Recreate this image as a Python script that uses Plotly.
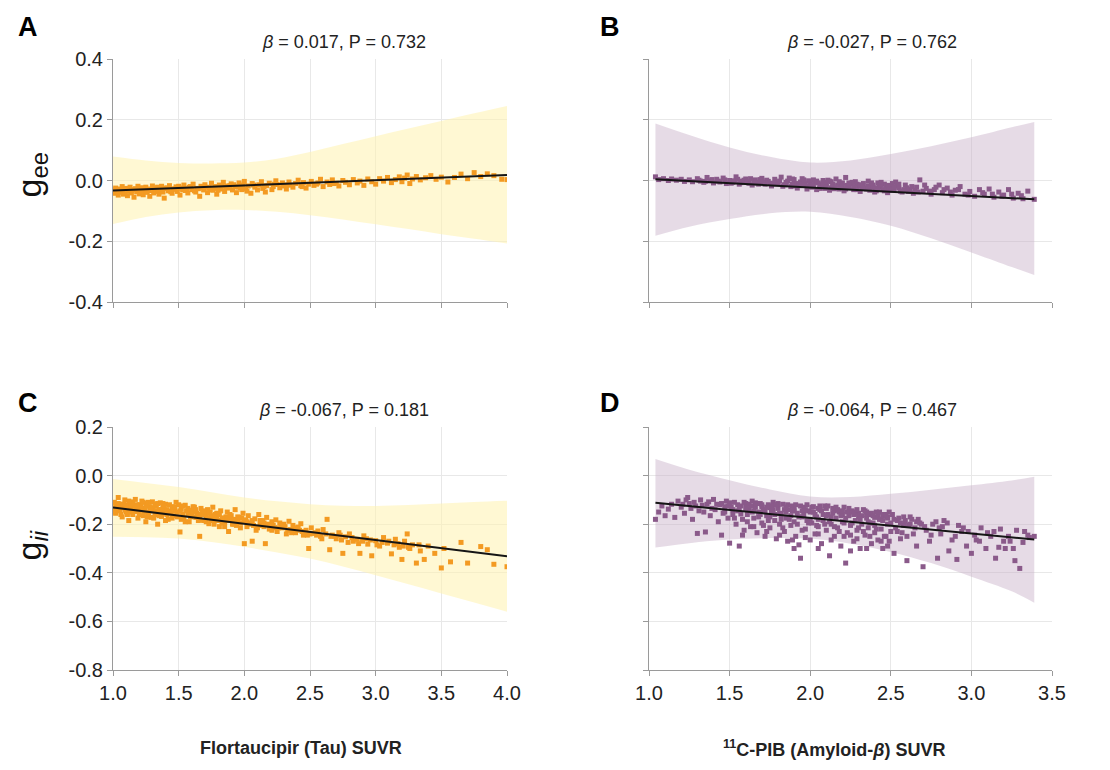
import plotly.graph_objects as go

# ---------------- data ----------------
tau_gee_pts = [(1.00,-0.030),(1.01,-0.042),(1.02,-0.025),(1.03,-0.036),(1.04,-0.048),(1.05,-0.028),(1.06,-0.038),(1.07,-0.020),(1.08,-0.045),(1.09,-0.032),(1.10,-0.026),(1.11,-0.050),(1.12,-0.035),(1.13,-0.022),(1.14,-0.041),(1.15,-0.030),(1.16,-0.055),(1.17,-0.027),(1.18,-0.037),(1.19,-0.019),(1.20,-0.044),
(1.21,-0.031),(1.22,-0.024),(1.23,-0.047),(1.24,-0.034),(1.25,-0.022),(1.26,-0.039),(1.27,-0.028),(1.28,-0.052),(1.29,-0.033),(1.30,-0.018),(1.31,-0.041),(1.32,-0.027),(1.33,-0.036),(1.34,-0.022),(1.35,-0.045),(1.36,-0.030),(1.37,-0.019),(1.38,-0.038),(1.39,-0.058),(1.40,-0.026),
(1.42,-0.034),(1.43,-0.017),(1.45,-0.042),(1.46,-0.029),(1.48,-0.021),(1.49,-0.036),(1.51,-0.048),(1.52,-0.025),(1.54,-0.015),(1.55,-0.033),(1.57,-0.041),(1.58,-0.022),(1.60,-0.030),(1.61,-0.012),(1.63,-0.038),(1.64,-0.026),(1.66,-0.052),(1.67,-0.019),(1.69,-0.031),(1.70,-0.014),(1.72,-0.040),(1.73,-0.024),(1.75,-0.009),(1.76,-0.032),(1.78,-0.020),(1.79,-0.045),(1.81,-0.015),(1.82,-0.028),(1.84,-0.006),(1.85,-0.036),(1.87,-0.018),(1.88,-0.025),(1.90,-0.011),(1.91,-0.031),(1.93,-0.020),(1.94,-0.040),(1.96,-0.008),(1.97,-0.024),(1.99,-0.015),(2.00,-0.003),
(2.01,-0.028),(2.02,-0.035),(2.03,-0.018),(2.05,-0.042),(2.06,-0.010),(2.08,-0.022),(2.10,-0.031),(2.11,-0.014),(2.13,-0.004),(2.14,-0.026),(2.16,-0.038),(2.17,-0.017),(2.19,-0.009),(2.21,-0.030),(2.22,-0.020),(2.24,-0.001),(2.25,-0.013),(2.27,-0.024),(2.29,-0.008),(2.30,-0.018),(2.32,-0.028),(2.34,-0.005),(2.35,-0.015),(2.37,-0.022),(2.39,-0.010),(2.41,0.001),(2.43,-0.017),(2.45,-0.007),(2.47,-0.025),(2.49,-0.012),
(2.51,-0.003),(2.53,-0.016),(2.56,-0.008),(2.58,0.004),(2.60,-0.020),(2.63,-0.005),(2.65,-0.013),(2.67,0.002),(2.70,-0.009),(2.72,-0.018),(2.75,0.000),(2.77,-0.006),(2.80,-0.014),(2.83,0.003),(2.86,-0.008),(2.88,-0.002),(2.91,-0.016),(2.94,0.005),(2.97,-0.004),(3.00,-0.012),
(3.03,0.006),(3.06,-0.002),(3.09,0.010),(3.12,-0.007),(3.15,0.003),(3.18,0.012),(3.20,-0.004),(3.22,0.008),(3.24,0.018),(3.26,-0.010),(3.28,0.005),(3.31,0.013),(3.34,0.002),(3.38,0.009),(3.42,0.016),(3.46,0.004),(3.50,0.011),(3.55,-0.005),(3.60,0.010),(3.65,0.021),(3.70,0.006),(3.75,0.026),(3.80,0.013),(3.85,0.022),(3.90,0.016),(3.96,0.004),(4.00,0.003),
(1.02,-0.034),(1.07,-0.031),(1.12,-0.028),(1.18,-0.029),(1.23,-0.026),(1.28,-0.030),(1.34,-0.031),(1.41,-0.024),(1.47,-0.027),(1.53,-0.030),(1.59,-0.020),(1.65,-0.027),(1.71,-0.022),(1.77,-0.026),(1.83,-0.019),(1.89,-0.017),(1.95,-0.022),
(1.04,-0.038),(1.09,-0.040),(1.14,-0.034),(1.21,-0.040),(1.26,-0.033),(1.31,-0.024),(1.37,-0.033),(1.44,-0.037),(1.50,-0.019),(1.56,-0.027),(1.62,-0.034),(1.68,-0.024),(1.74,-0.030),(1.80,-0.032),(1.86,-0.023),(1.92,-0.014),(1.98,-0.030),(2.07,-0.015),(2.15,-0.020),(2.23,-0.012),(2.33,-0.014),(2.44,-0.020),(2.55,-0.012),(2.68,-0.010)]

pib_gee_pts = [(1.04,0.012),(1.06,0.003),(1.09,0.006),(1.12,0.000),(1.14,0.005),(1.17,0.001),(1.20,0.004),(1.22,-0.003),(1.25,0.002),(1.27,-0.004),(1.30,0.006),(1.32,-0.002),(1.34,-0.006),(1.36,0.010),(1.38,-0.001),(1.40,-0.008),(1.42,0.004),(1.44,-0.005),(1.46,0.008),(1.48,-0.010),(1.50,0.000),
(1.52,-0.006),(1.54,0.012),(1.56,-0.012),(1.58,-0.002),(1.60,0.005),(1.62,-0.009),(1.64,-0.015),(1.66,0.002),(1.68,-0.006),(1.70,0.007),(1.72,-0.012),(1.74,-0.003),(1.76,-0.018),(1.78,0.004),(1.80,-0.008),(1.82,0.011),(1.84,-0.014),(1.86,-0.002),(1.88,-0.020),(1.90,0.003),
(1.91,-0.010),(1.92,-0.025),(1.94,-0.005),(1.95,0.006),(1.96,-0.016),(1.98,-0.028),(1.99,-0.001),(2.00,-0.012),(2.01,-0.022),(2.02,0.002),(2.04,-0.030),(2.05,-0.008),(2.06,-0.018),(2.08,0.000),(2.09,-0.026),(2.10,-0.012),(2.12,-0.032),(2.13,-0.004),(2.14,-0.020),(2.16,0.005),
(2.17,-0.015),(2.18,-0.028),(2.20,-0.008),(2.21,-0.034),(2.22,0.010),(2.24,-0.022),(2.25,-0.012),(2.27,-0.030),(2.28,-0.004),(2.30,-0.018),(2.31,-0.036),(2.33,-0.010),(2.34,-0.025),(2.36,-0.002),(2.37,-0.032),(2.39,-0.015),(2.40,-0.038),(2.42,-0.008),(2.43,-0.022),(2.45,-0.030),
(2.46,-0.012),(2.48,-0.040),(2.50,-0.020),(2.52,-0.032),(2.53,-0.005),(2.55,-0.025),(2.57,-0.038),(2.59,-0.015),(2.62,-0.030),(2.64,-0.042),(2.66,-0.022),(2.68,0.002),(2.70,-0.035),(2.72,-0.026),(2.75,-0.045),(2.77,-0.030),(2.80,-0.015),(2.82,-0.040),(2.85,-0.025),(2.88,-0.048),
(2.90,-0.032),(2.93,-0.020),(2.96,-0.045),(2.99,-0.036),(3.02,-0.052),(3.05,-0.030),(3.08,-0.045),(3.11,-0.028),(3.14,-0.055),(3.17,-0.038),(3.20,-0.048),(3.23,-0.030),(3.26,-0.058),(3.29,-0.042),(3.32,-0.060),(3.35,-0.035),(3.39,-0.062),
(1.65,-0.004),(1.73,0.001),(1.79,-0.011),(1.87,0.008),(1.93,-0.017),(2.03,-0.006),(2.07,-0.014),(2.11,0.001),(2.19,-0.024),(2.26,-0.006),(2.35,-0.028),(2.44,-0.016),(2.51,-0.010),(1.68,-0.012),(1.83,-0.019),(1.97,-0.009),(2.15,-0.027),(2.23,-0.016),(2.32,-0.022),(2.41,-0.034),
(2.47,-0.026),(2.56,-0.035),(2.61,-0.036),(2.60,-0.024),(2.65,-0.032),(1.75,-0.009),(1.85,-0.006),(1.89,-0.013),(2.01,-0.016),(2.09,-0.006),(2.13,-0.024),(2.29,-0.012),(2.38,-0.020),(2.49,-0.033),(2.54,-0.018),
(1.31,0.001),(1.35,-0.003),(1.39,0.003),(1.43,-0.002),(1.47,0.002),(1.51,-0.009),(1.53,-0.001),(1.55,0.004),(1.57,-0.007),(1.59,0.001),(1.61,-0.004),(1.63,0.006),(1.67,-0.008),(1.69,0.003),(1.71,-0.005),(1.77,-0.010),(1.81,-0.002),(1.85,-0.013),(1.89,0.005),(1.90,-0.018),
(1.94,-0.012),(1.96,0.002),(1.99,-0.020),(2.02,-0.014),(2.04,-0.002),(2.06,-0.026),(2.08,-0.010),(2.10,-0.020),(2.12,-0.002),(2.14,-0.012),(2.16,-0.022),(2.18,-0.004),(2.20,-0.018),(2.22,-0.028),(2.24,-0.008),(2.27,-0.020),(2.29,-0.030),(2.31,-0.014),(2.33,-0.026),(2.36,-0.018),
(2.38,-0.008),(2.40,-0.024),(2.42,-0.030),(2.44,-0.006),(2.46,-0.034),(2.48,-0.016),(2.50,-0.030),(2.52,-0.022),(2.55,-0.012),(2.58,-0.030),(2.63,-0.020),(2.67,-0.038),(2.71,-0.015),(2.74,-0.035),(2.78,-0.022),(2.83,-0.030),(2.87,-0.038),(2.92,-0.030),(2.98,-0.048),(3.07,-0.040),
(3.13,-0.045),(3.19,-0.052),(3.25,-0.045),(3.31,-0.050)]

tau_gii_pts = [(1.00,-0.140),(1.01,-0.110),(1.02,-0.155),(1.03,-0.125),(1.04,-0.090),(1.05,-0.145),(1.06,-0.118),(1.07,-0.170),(1.08,-0.132),(1.09,-0.100),(1.10,-0.150),(1.11,-0.122),(1.12,-0.185),(1.13,-0.140),(1.14,-0.108),(1.15,-0.160),(1.16,-0.130),(1.17,-0.098),(1.18,-0.148),(1.19,-0.175),(1.20,-0.120),
(1.21,-0.142),(1.22,-0.105),(1.23,-0.165),(1.24,-0.135),(1.25,-0.190),(1.26,-0.115),(1.27,-0.152),(1.28,-0.128),(1.29,-0.172),(1.30,-0.108),(1.31,-0.145),(1.32,-0.160),(1.33,-0.125),(1.34,-0.200),(1.35,-0.140),(1.36,-0.112),(1.37,-0.168),(1.38,-0.135),(1.39,-0.155),(1.40,-0.118),
(1.42,-0.180),(1.43,-0.146),(1.45,-0.128),(1.46,-0.165),(1.48,-0.110),(1.49,-0.150),(1.51,-0.232),(1.52,-0.138),(1.54,-0.175),(1.55,-0.122),(1.57,-0.160),(1.58,-0.190),(1.60,-0.142),(1.61,-0.128),(1.63,-0.172),(1.64,-0.155),(1.66,-0.250),(1.67,-0.135),(1.69,-0.185),(1.70,-0.160),
(1.72,-0.140),(1.73,-0.198),(1.75,-0.168),(1.76,-0.130),(1.78,-0.182),(1.79,-0.155),(1.81,-0.210),(1.82,-0.145),(1.84,-0.175),(1.85,-0.192),(1.87,-0.150),(1.88,-0.230),(1.90,-0.165),(1.91,-0.185),(1.93,-0.140),(1.94,-0.205),(1.96,-0.172),(1.97,-0.195),(1.99,-0.155),(2.00,-0.280),
(2.01,-0.182),(2.02,-0.210),(2.03,-0.165),(2.05,-0.195),(2.06,-0.270),(2.08,-0.178),(2.10,-0.215),(2.11,-0.160),(2.13,-0.200),(2.14,-0.185),(2.16,-0.280),(2.17,-0.172),(2.19,-0.220),(2.21,-0.190),(2.22,-0.205),(2.24,-0.182),(2.25,-0.230),(2.27,-0.195),(2.29,-0.215),(2.30,-0.200),
(2.32,-0.240),(2.34,-0.188),(2.35,-0.222),(2.37,-0.205),(2.39,-0.235),(2.41,-0.212),(2.43,-0.198),(2.45,-0.245),(2.47,-0.225),(2.49,-0.300),(2.51,-0.215),(2.53,-0.238),(2.56,-0.228),(2.58,-0.250),(2.60,-0.222),(2.63,-0.180),(2.65,-0.305),(2.67,-0.245),(2.70,-0.260),(2.72,-0.235),
(2.75,-0.320),(2.77,-0.252),(2.80,-0.240),(2.83,-0.270),(2.86,-0.262),(2.88,-0.320),(2.91,-0.248),(2.94,-0.282),(2.97,-0.330),(3.00,-0.268),(3.03,-0.290),(3.06,-0.255),(3.09,-0.278),(3.12,-0.322),(3.15,-0.262),(3.18,-0.295),(3.20,-0.345),(3.22,-0.270),(3.24,-0.240),(3.26,-0.300),
(3.28,-0.285),(3.31,-0.360),(3.34,-0.310),(3.37,-0.345),(3.40,-0.290),(3.45,-0.320),(3.50,-0.380),(3.52,-0.300),(3.57,-0.355),(3.65,-0.275),(3.70,-0.360),(3.80,-0.292),(3.85,-0.305),(3.90,-0.365),(4.00,-0.375),
(1.03,-0.138),(1.08,-0.118),(1.13,-0.125),(1.19,-0.130),(1.24,-0.150),(1.30,-0.132),(1.36,-0.150),(1.41,-0.140),(1.47,-0.145),(1.53,-0.158),(1.59,-0.150),(1.65,-0.168),(1.71,-0.172),(1.77,-0.165),(1.83,-0.195),(1.89,-0.178),(1.95,-0.188),(2.04,-0.198),(2.12,-0.205),(2.20,-0.210),
(1.02,-0.120),(1.05,-0.128),(1.09,-0.142),(1.11,-0.160),(1.15,-0.115),(1.17,-0.135),(1.21,-0.125),(1.23,-0.110),(1.26,-0.170),(1.28,-0.145),(1.32,-0.118),(1.35,-0.165),(1.38,-0.115),(1.40,-0.185),(1.44,-0.155),(1.46,-0.135),(1.50,-0.120),(1.52,-0.180),(1.56,-0.145),(1.60,-0.165),
(1.62,-0.130),(1.66,-0.180),(1.68,-0.150),(1.72,-0.175),(1.74,-0.150),(1.78,-0.160),(1.80,-0.185),(1.86,-0.170),(1.92,-0.200),(1.98,-0.175),(2.02,-0.190),(2.07,-0.205),(2.15,-0.195),(2.23,-0.215),(2.28,-0.205),(2.33,-0.225),(2.38,-0.215),(2.44,-0.230),(2.50,-0.240),(2.55,-0.245),
(2.62,-0.240),(2.69,-0.250),(2.74,-0.265),(2.82,-0.255),(2.90,-0.270),(2.96,-0.265),(3.05,-0.275),(3.14,-0.285),(3.21,-0.290),
(1.01,-0.150),(1.04,-0.115),(1.06,-0.160),(1.10,-0.125),(1.12,-0.105),(1.14,-0.150),(1.16,-0.145),(1.18,-0.120),(1.20,-0.160),(1.22,-0.135),(1.25,-0.125),(1.27,-0.110),(1.29,-0.140),(1.31,-0.175),(1.33,-0.145),(1.34,-0.115),(1.37,-0.140),(1.39,-0.125),(1.41,-0.160),(1.43,-0.120),
(1.45,-0.175),(1.47,-0.130),(1.49,-0.170),(1.51,-0.145),(1.53,-0.125),(1.55,-0.190),(1.57,-0.135),(1.59,-0.170),(1.61,-0.150),(1.63,-0.140),(1.65,-0.185),(1.67,-0.160),(1.69,-0.145),(1.71,-0.190),(1.73,-0.155),(1.75,-0.185),(1.77,-0.200),(1.79,-0.170),(1.81,-0.160),(1.83,-0.175),
(1.85,-0.210),(1.87,-0.185),(1.89,-0.160),(1.91,-0.200),(1.93,-0.180),(1.95,-0.170),(1.97,-0.215),(2.00,-0.185),(2.03,-0.200),(2.06,-0.185),(2.09,-0.225),(2.12,-0.185),(2.15,-0.210),(2.18,-0.200),(2.21,-0.225),(2.26,-0.215),(2.31,-0.210),(2.36,-0.235),(2.42,-0.225),(2.48,-0.245),
(2.54,-0.235),(2.59,-0.260),(2.66,-0.250),(2.73,-0.245),(2.79,-0.275),(2.87,-0.280),(2.93,-0.260),(3.01,-0.285),(3.10,-0.270),(3.17,-0.280),(3.25,-0.295),(3.33,-0.285)]

pib_gii_pts = [(1.04,-0.180),(1.06,-0.150),(1.08,-0.125),(1.10,-0.165),(1.12,-0.138),(1.14,-0.118),(1.16,-0.172),(1.18,-0.105),(1.20,-0.130),(1.22,-0.155),(1.24,-0.090),(1.25,-0.115),(1.27,-0.180),(1.29,-0.125),(1.30,-0.238),(1.32,-0.100),(1.34,-0.150),(1.35,-0.232),(1.36,-0.118),(1.38,-0.165),
(1.40,-0.098),(1.41,-0.140),(1.43,-0.190),(1.44,-0.120),(1.45,-0.245),(1.46,-0.155),(1.48,-0.105),(1.49,-0.175),(1.50,-0.278),(1.51,-0.130),(1.52,-0.160),(1.53,-0.110),(1.54,-0.200),(1.55,-0.145),(1.56,-0.290),(1.57,-0.125),(1.58,-0.180),(1.59,-0.225),(1.60,-0.115),(1.61,-0.160),
(1.62,-0.140),(1.63,-0.210),(1.64,-0.105),(1.65,-0.175),(1.66,-0.130),(1.67,-0.235),(1.68,-0.150),(1.69,-0.115),(1.70,-0.195),(1.71,-0.140),(1.72,-0.250),(1.73,-0.165),(1.74,-0.120),(1.75,-0.215),(1.76,-0.150),(1.77,-0.110),(1.78,-0.185),(1.79,-0.260),(1.80,-0.135),(1.81,-0.200),
(1.82,-0.160),(1.83,-0.118),(1.84,-0.230),(1.85,-0.175),(1.86,-0.270),(1.87,-0.140),(1.88,-0.205),(1.89,-0.125),(1.90,-0.190),(1.91,-0.250),(1.92,-0.155),(1.93,-0.285),(1.94,-0.340),(1.95,-0.170),(1.96,-0.130),(1.97,-0.220),(1.98,-0.185),(1.99,-0.145),(2.00,-0.265),(2.01,-0.195),
(2.02,-0.128),(2.03,-0.240),(2.04,-0.170),(2.05,-0.210),(2.06,-0.140),(2.07,-0.280),(2.08,-0.185),(2.09,-0.125),(2.10,-0.225),(2.11,-0.160),(2.12,-0.330),(2.13,-0.200),(2.14,-0.135),(2.15,-0.250),(2.16,-0.175),(2.17,-0.215),(2.18,-0.150),(2.19,-0.290),(2.20,-0.190),(2.21,-0.130),
(2.22,-0.360),(2.23,-0.235),(2.24,-0.165),(2.25,-0.205),(2.26,-0.145),(2.27,-0.270),(2.28,-0.185),(2.29,-0.225),(2.30,-0.155),(2.31,-0.300),(2.32,-0.200),(2.33,-0.140),(2.34,-0.245),(2.35,-0.175),(2.36,-0.215),(2.37,-0.160),(2.38,-0.280),(2.39,-0.195),(2.40,-0.235),(2.41,-0.150),
(2.42,-0.265),(2.43,-0.180),(2.44,-0.220),(2.45,-0.300),(2.46,-0.165),(2.47,-0.250),(2.48,-0.200),(2.49,-0.150),(2.50,-0.230),(2.52,-0.320),(2.54,-0.185),(2.56,-0.260),(2.58,-0.205),(2.60,-0.350),(2.62,-0.170),(2.64,-0.240),(2.66,-0.290),(2.68,-0.195),(2.70,-0.375),(2.72,-0.225),
(2.74,-0.270),(2.76,-0.200),(2.79,-0.340),(2.81,-0.240),(2.83,-0.185),(2.86,-0.310),(2.88,-0.265),(2.91,-0.345),(2.94,-0.230),(2.97,-0.290),(3.00,-0.320),(3.03,-0.265),(3.06,-0.215),(3.09,-0.300),(3.12,-0.250),(3.15,-0.340),(3.18,-0.220),(3.21,-0.300),(3.24,-0.270),(3.27,-0.350),
(3.30,-0.382),(3.33,-0.230),(3.36,-0.255),(3.39,-0.250),
(1.70,-0.128),(1.75,-0.132),(1.80,-0.120),(1.85,-0.150),(1.90,-0.135),(1.95,-0.145),(2.00,-0.150),(2.05,-0.135),(2.10,-0.165),(2.15,-0.145),(2.20,-0.160),(2.25,-0.150),(2.30,-0.170),(2.35,-0.160),(2.40,-0.172),(2.45,-0.160),(2.48,-0.175),
(1.21,-0.118),(1.23,-0.100),(1.26,-0.135),(1.28,-0.110),(1.31,-0.145),(1.33,-0.122),(1.37,-0.108),(1.39,-0.135),(1.42,-0.118),(1.47,-0.128),(1.50,-0.112),(1.52,-0.140),(1.55,-0.120),(1.57,-0.158),(1.60,-0.135),(1.62,-0.118),(1.64,-0.150),(1.66,-0.112),(1.68,-0.170),(1.70,-0.120),
(1.72,-0.145),(1.74,-0.185),(1.76,-0.125),(1.78,-0.160),(1.80,-0.115),(1.82,-0.180),(1.84,-0.140),(1.86,-0.120),(1.88,-0.165),(1.90,-0.145),(1.92,-0.200),(1.94,-0.125),(1.96,-0.160),(1.98,-0.120),(2.00,-0.185),(2.02,-0.150),(2.04,-0.205),(2.06,-0.125),(2.08,-0.160),(2.10,-0.135),
(2.12,-0.190),(2.14,-0.155),(2.16,-0.130),(2.18,-0.230),(2.20,-0.145),(2.22,-0.175),(2.24,-0.135),(2.26,-0.195),(2.28,-0.150),(2.30,-0.215),(2.32,-0.165),(2.34,-0.145),(2.36,-0.190),(2.38,-0.155),(2.40,-0.205),(2.42,-0.160),(2.44,-0.180),(2.46,-0.250),(2.48,-0.170),(2.50,-0.195),
(2.51,-0.160),(2.53,-0.215),(2.55,-0.175),(2.57,-0.235),(2.59,-0.185),(2.61,-0.205),(2.63,-0.180),(2.65,-0.215),(2.67,-0.180),(2.69,-0.200),(2.78,-0.190),(2.82,-0.210),(2.85,-0.195),(2.92,-0.205),(2.98,-0.230),(3.05,-0.270),(3.10,-0.235),(3.17,-0.295),(3.23,-0.250),(3.28,-0.225),
(3.35,-0.245),(1.58,-0.245),(1.65,-0.210),(1.73,-0.230),(1.81,-0.245),(1.89,-0.265),(1.97,-0.255),(2.05,-0.240),(2.13,-0.265),(2.21,-0.250),(2.29,-0.260),(2.37,-0.250),(2.44,-0.270),(2.48,-0.290),(2.35,-0.300),(2.25,-0.310),(2.05,-0.300),(1.90,-0.300),
(1.45,-0.115),(1.47,-0.150),(1.49,-0.125),(1.53,-0.175),(1.56,-0.135),(1.59,-0.110),(1.61,-0.190),(1.63,-0.125),(1.65,-0.145),(1.67,-0.115),(1.69,-0.160),(1.71,-0.205),(1.73,-0.130),(1.75,-0.170),(1.77,-0.140),(1.79,-0.120),(1.81,-0.155),(1.83,-0.215),(1.85,-0.130),(1.87,-0.180),
(1.89,-0.145),(1.91,-0.120),(1.93,-0.170),(1.95,-0.225),(1.97,-0.140),(1.99,-0.195),(2.01,-0.130),(2.03,-0.160),(2.05,-0.180),(2.07,-0.145),(2.09,-0.200),(2.11,-0.125),(2.13,-0.170),(2.15,-0.210),(2.17,-0.140),(2.19,-0.165),(2.21,-0.195),(2.23,-0.150),(2.25,-0.245),(2.27,-0.160),
(2.29,-0.140),(2.31,-0.180),(2.33,-0.230),(2.35,-0.150),(2.37,-0.195),(2.39,-0.165),(2.41,-0.220),(2.43,-0.150),(2.45,-0.185),(2.47,-0.160),(2.49,-0.270),(2.52,-0.180),(2.54,-0.230),(2.56,-0.195),(2.58,-0.170),(2.60,-0.250),(2.62,-0.200),(2.66,-0.190),(2.71,-0.210),(2.75,-0.245),
(2.80,-0.215),(2.90,-0.250),(2.95,-0.215),(3.02,-0.245),(3.14,-0.230),(3.20,-0.270),(3.26,-0.300),(3.32,-0.275)]

# regression lines (endpoints) and confidence bands
tau_gee_line = ([1.0, 4.0], [-0.033, 0.018])
pib_gee_line = ([1.04, 3.39], [0.004, -0.062])
tau_gii_line = ([1.0, 4.0], [-0.131, -0.332])
pib_gii_line = ([1.04, 3.39], [-0.112, -0.263])

tau_band_x = [1.0, 1.25, 1.5, 1.75, 2.0, 2.25, 2.5, 2.75, 3.0, 3.25, 3.5, 3.75, 4.0]
tau_gee_upper = [0.079, 0.066, 0.058, 0.056, 0.059, 0.072, 0.094, 0.120, 0.146, 0.171, 0.196, 0.221, 0.245]
tau_gee_lower = [-0.143, -0.120, -0.105, -0.098, -0.097, -0.103, -0.114, -0.128, -0.144, -0.160, -0.177, -0.192, -0.207]
tau_gii_upper = [-0.014, -0.030, -0.047, -0.069, -0.090, -0.106, -0.118, -0.124, -0.125, -0.121, -0.115, -0.109, -0.104]
tau_gii_lower = [-0.252, -0.254, -0.259, -0.273, -0.293, -0.316, -0.341, -0.374, -0.410, -0.447, -0.485, -0.522, -0.560]

pib_band_x = [1.04, 1.25, 1.5, 1.75, 2.0, 2.25, 2.5, 2.75, 3.0, 3.25, 3.39]
pib_gee_upper = [0.188, 0.150, 0.109, 0.078, 0.059, 0.066, 0.087, 0.113, 0.142, 0.175, 0.193]
pib_gee_lower = [-0.182, -0.152, -0.127, -0.108, -0.103, -0.120, -0.149, -0.190, -0.237, -0.285, -0.311]
pib_gii_upper = [0.068, 0.024, -0.019, -0.057, -0.086, -0.088, -0.075, -0.058, -0.040, -0.020, -0.005]
pib_gii_lower = [-0.296, -0.278, -0.263, -0.257, -0.259, -0.280, -0.314, -0.360, -0.416, -0.476, -0.523]

stat_labels = ["<i>β</i> = 0.017, P = 0.732", "<i>β</i> = -0.027, P = 0.762",
               "<i>β</i> = -0.067, P = 0.181", "<i>β</i> = -0.064, P = 0.467"]
panel_letters = ["A", "B", "C", "D"]
tau_ticks = [1.0, 1.5, 2.0, 2.5, 3.0, 3.5, 4.0]
pib_ticks = [1.0, 1.5, 2.0, 2.5, 3.0, 3.5]
gee_ticks = [-0.4, -0.2, 0.0, 0.2, 0.4]
gii_ticks = [-0.8, -0.6, -0.4, -0.2, 0.0, 0.2]

# ---------------- styling ----------------
W, H = 1110, 770
OFF = 8  # page body offset of the plot div
ORANGE = "#F39A22"
YELLOW_BAND = "rgba(255,242,175,0.55)"
PURPLE = "#8A5A8A"
PURPLE_BAND = "rgba(200,175,200,0.45)"
LINE = "#151515"
FONT = "Liberation Sans, Arial, Helvetica, sans-serif"

def px_x(p):
    return (p - OFF) / W

def px_y(p):
    return 1 - (p - OFF) / H

panels = [
    (tau_gee_pts, tau_gee_line, tau_band_x, tau_gee_upper, tau_gee_lower, ORANGE, YELLOW_BAND, "x", "y"),
    (pib_gee_pts, pib_gee_line, pib_band_x, pib_gee_upper, pib_gee_lower, PURPLE, PURPLE_BAND, "x2", "y2"),
    (tau_gii_pts, tau_gii_line, tau_band_x, tau_gii_upper, tau_gii_lower, ORANGE, YELLOW_BAND, "x3", "y3"),
    (pib_gii_pts, pib_gii_line, pib_band_x, pib_gii_upper, pib_gii_lower, PURPLE, PURPLE_BAND, "x4", "y4"),
]

fig = go.Figure()
for pts, line, bx, up, lo, col, bcol, xa, ya in panels:
    fig.add_trace(go.Scatter(x=bx, y=lo, mode="lines", line=dict(width=0, shape="spline"),
                             xaxis=xa, yaxis=ya, showlegend=False, hoverinfo="skip"))
    fig.add_trace(go.Scatter(x=bx, y=up, mode="lines", line=dict(width=0, shape="spline"),
                             fill="tonexty", fillcolor=bcol,
                             xaxis=xa, yaxis=ya, showlegend=False, hoverinfo="skip"))
    fig.add_trace(go.Scatter(x=[p[0] for p in pts], y=[p[1] for p in pts], mode="markers",
                             marker=dict(symbol="square", size=5, color=col, line=dict(width=0)),
                             xaxis=xa, yaxis=ya, showlegend=False))
    fig.add_trace(go.Scatter(x=line[0], y=line[1], mode="lines", line=dict(color=LINE, width=2),
                             xaxis=xa, yaxis=ya, showlegend=False))

xdom_left = [px_x(113), px_x(507)]
xdom_right = [px_x(649), px_x(1052)]
ydom_top = [px_y(302), px_y(59)]
ydom_bot = [px_y(670), px_y(427)]

axis_common = dict(showline=True, linecolor="#9a9a9a", linewidth=1, ticks="outside",
                   ticklen=5, tickcolor="#9a9a9a", showgrid=True, gridcolor="#e8e8e8",
                   gridwidth=1, zeroline=False, automargin=False,
                   tickfont=dict(family=FONT, size=20, color="#222"))

def make_axis(dom, rng, ticks, show, anchor):
    return dict(axis_common, domain=dom, range=rng, tickvals=ticks,
                ticktext=[f"{t:.1f}" for t in ticks], showticklabels=show, anchor=anchor)

fig.update_layout(
    template="none",
    width=W, height=H, margin=dict(l=0, r=0, t=0, b=0, pad=0, autoexpand=False),
    paper_bgcolor="white", plot_bgcolor="white", showlegend=False,
    font=dict(family=FONT, color="#222"),
    xaxis=make_axis(xdom_left, [1.0, 4.0], tau_ticks, False, "y"),
    yaxis=make_axis(ydom_top, [-0.4, 0.4], gee_ticks, True, "x"),
    xaxis2=make_axis(xdom_right, [1.0, 3.5], pib_ticks, False, "y2"),
    yaxis2=make_axis(ydom_top, [-0.4, 0.4], gee_ticks, False, "x2"),
    xaxis3=make_axis(xdom_left, [1.0, 4.0], tau_ticks, True, "y3"),
    yaxis3=make_axis(ydom_bot, [-0.8, 0.2], gii_ticks, True, "x3"),
    xaxis4=make_axis(xdom_right, [1.0, 3.5], pib_ticks, True, "y4"),
    yaxis4=make_axis(ydom_bot, [-0.8, 0.2], gii_ticks, False, "x4"),
)

ann = []
for txt, (cx, cy) in zip(stat_labels, [(344, 42), (872, 42), (344, 410), (872, 410)]):
    ann.append(dict(text=txt, x=px_x(cx), y=px_y(cy), xref="paper", yref="paper",
                    xanchor="center", yanchor="middle", showarrow=False,
                    font=dict(family=FONT, size=18, color="#222")))
for txt, (cx, cy) in zip(panel_letters, [(28, 27), (610, 27), (28, 403), (610, 403)]):
    ann.append(dict(text=f"<b>{txt}</b>", x=px_x(cx), y=px_y(cy), xref="paper", yref="paper",
                    xanchor="center", yanchor="middle", showarrow=False,
                    font=dict(family=FONT, size=27, color="#000")))
# y titles, anchored at the left edge of the figure so they stay fully inside it
ann.append(dict(text="g<sub>ee</sub>", x=0.0, y=px_y(175), xref="paper", yref="paper",
                xanchor="left", yanchor="middle", textangle=-90, showarrow=False, borderpad=0,
                font=dict(family=FONT, size=34, color="#111")))
ann.append(dict(text="g<sub><i>ii</i></sub>", x=0.0, y=px_y(546), xref="paper", yref="paper",
                xanchor="left", yanchor="middle", textangle=-90, showarrow=False, borderpad=0,
                font=dict(family=FONT, size=34, color="#111")))
ann.append(dict(text="<b>Flortaucipir (Tau) SUVR</b>", x=px_x(198), y=px_y(748),
                xref="paper", yref="paper", xanchor="left", yanchor="middle", showarrow=False,
                font=dict(family=FONT, size=18, color="#222")))
ann.append(dict(text="<b><sup>11</sup>C-PIB (Amyloid-<i>β</i>) SUVR</b>", x=px_x(721), y=px_y(748),
                xref="paper", yref="paper", xanchor="left", yanchor="middle", showarrow=False,
                font=dict(family=FONT, size=18, color="#222")))
fig.update_layout(annotations=ann)

fig.write_html("out.html")
